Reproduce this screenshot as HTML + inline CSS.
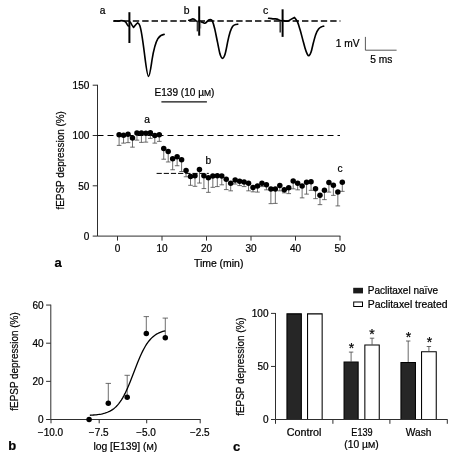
<!DOCTYPE html>
<html><head><meta charset="utf-8"><title>Figure</title>
<style>html,body{margin:0;padding:0;background:#fff}text{stroke:#000;stroke-width:0.22px}svg{display:block;will-change:transform;transform:translateZ(0)}</style></head>
<body>
<svg width="458" height="462" viewBox="0 0 458 462" font-family="Liberation Sans, sans-serif" fill="#000">
<rect width="458" height="462" fill="#fff"/>
<g fill="none" stroke="#000" stroke-linecap="round" stroke-linejoin="round">
<path d="M114 21.1 H340.4" stroke-width="1.5" stroke-dasharray="6.4 3" stroke-linecap="butt"/>
<path stroke-width="1.65" d="M113.8 21.0 C116 20.5 117.5 21.5 119 21.0 C121 20.3 122.5 20.8 124 21 C125.6 21.4 126.6 23 127.3 24.6 C127.8 25.6 128.3 26.2 128.8 26 M130.3 22 C131 23.5 132.2 25.8 133.6 27.4 C134.6 26.4 136 24 137.6 22.8 C138.6 23 139.2 24 139.8 25.5 C141.5 30 143 42 144.5 54 C145.8 64 147.2 76.3 148.5 76.3 C149.8 76.3 150.8 68 152 60 C153.6 50 155.5 42.6 158 38.4 C160 35.8 162 34.6 164.1 34.4"/>
<path stroke-width="2.0" d="M129.4 12.2 V43" stroke-linecap="butt"/>
<path stroke-width="1.65" d="M188.8 20.3 C190 20.4 191 19.6 192.3 19 C193.6 18.6 194.6 19.4 195.8 20.6 C196.8 21.5 197.6 21.6 198.4 21.4 M200.3 21.6 C201.5 22 202.8 22.2 204.2 23.2 C205.2 23.6 206 22.8 207 21.6 C208 20.4 209.2 19.5 210.3 19.6 C211.4 19.7 212 20.2 212.4 21.1 C213.6 23.6 214.3 27 214.9 29.6 C215.9 34 216.7 38.4 217.5 42.2 C218.4 46.6 219.2 51 220 54.1 C220.8 56.8 221.6 58.3 222.5 58.3 C223.4 58.3 224.3 56.8 225.1 54.1 C226 51 226.8 46.6 227.6 42.2 C228.4 38.4 229.2 35 230.1 32.1 C231 29.4 231.8 27.4 232.7 26.2 C233.6 25.2 234.6 24.7 235.7 24.5 L237.7 24.2"/>
<path stroke-width="2.0" d="M199.2 6.3 V35.7" stroke-linecap="butt"/>
<path stroke-width="1.7" stroke="#3c3c3c" d="M197.5 21.3 V31.4" stroke-linecap="butt"/><path stroke-width="0.8" stroke="#666" d="M200.7 21.5 V28.5" stroke-linecap="butt"/>
<path stroke-width="1.65" d="M268.6 18.3 C270.5 18.2 272 18.8 273.5 18.9 C275.5 19 277 18.6 278.5 19.6 C279.8 20.4 280.6 20.8 281.6 20.8 M283.6 20.6 C285 21 286.3 21.3 287.6 21.1 C289.8 20.6 292 18.4 294.4 17.4 C294.94 18.16 296.54 19.93 297.47 21.96 C298.40 23.99 299.16 26.75 300.01 29.56 C300.85 32.38 301.70 35.75 302.54 38.85 C303.39 41.95 304.29 45.61 305.07 48.14 C305.86 50.68 306.62 52.79 307.27 54.05 C307.92 55.32 308.34 56.02 308.96 55.74 C309.58 55.46 310.23 54.62 310.99 52.36 C311.75 50.11 312.68 45.33 313.52 42.23 C314.36 39.13 315.21 35.98 316.05 33.78 C316.90 31.59 317.74 30.18 318.59 29.05 C319.43 27.93 320.28 27.51 321.12 27.03 C321.97 26.55 323.23 26.32 323.66 26.18"/>
<path stroke-width="2.0" d="M282.6 9.3 V36.9" stroke-linecap="butt"/>
<path stroke-width="1.5" stroke="#303030" d="M280.2 21.0 V32.5" stroke-linecap="butt"/>
</g>
<text x="102.50" y="14.47" text-anchor="middle" font-size="10.2" font-weight="normal" >a</text>
<text x="186.60" y="13.54" text-anchor="middle" font-size="10.4" font-weight="normal" >b</text>
<text x="265.60" y="14.22" text-anchor="middle" font-size="10.6" font-weight="normal" >c</text>
<path d="M365.4 36.9 V50.2 H396.6" fill="none" stroke="#2e2e2e" stroke-width="0.8"/>
<text x="335.80" y="47.17" font-size="10.2" textLength="23.80" lengthAdjust="spacingAndGlyphs">1 mV</text>
<text x="370.20" y="63.27" font-size="10.2" textLength="22.10" lengthAdjust="spacingAndGlyphs">5 ms</text>
<g fill="none" stroke="#2e2e2e" stroke-width="1">
<path d="M97.5 84.80 V236.1 H340.4"/>
<path d="M92.7 236.10 H97.5"/>
<path d="M92.7 185.80 H97.5"/>
<path d="M92.7 135.50 H97.5"/>
<path d="M92.7 85.20 H97.5"/>
<path d="M117.50 236.1 V240.6"/>
<path d="M162.00 236.1 V240.6"/>
<path d="M206.50 236.1 V240.6"/>
<path d="M251.00 236.1 V240.6"/>
<path d="M295.50 236.1 V240.6"/>
<path d="M340.00 236.1 V240.6"/>
</g>
<text x="89.30" y="240.00" text-anchor="end" font-size="10.0" font-weight="normal" >0</text>
<text x="89.30" y="189.70" text-anchor="end" font-size="10.0" font-weight="normal" >50</text>
<text x="89.30" y="139.40" text-anchor="end" font-size="10.0" font-weight="normal" >100</text>
<text x="89.30" y="89.10" text-anchor="end" font-size="10.0" font-weight="normal" >150</text>
<text x="117.50" y="252.00" text-anchor="middle" font-size="10.0" font-weight="normal" >0</text>
<text x="162.00" y="252.00" text-anchor="middle" font-size="10.0" font-weight="normal" >10</text>
<text x="206.50" y="252.00" text-anchor="middle" font-size="10.0" font-weight="normal" >20</text>
<text x="251.00" y="252.00" text-anchor="middle" font-size="10.0" font-weight="normal" >30</text>
<text x="295.50" y="252.00" text-anchor="middle" font-size="10.0" font-weight="normal" >40</text>
<text x="340.00" y="252.00" text-anchor="middle" font-size="10.0" font-weight="normal" >50</text>
<text x="193.90" y="266.97" font-size="10.2" textLength="49.50" lengthAdjust="spacingAndGlyphs">Time (min)</text>
<text x="58.10" y="267.28" text-anchor="middle" font-size="13" font-weight="bold" >a</text>
<text transform="translate(64.2 160.4) rotate(-90)" text-anchor="middle" font-size="10.2" textLength="98.4" lengthAdjust="spacingAndGlyphs">fEPSP depression (%)</text>
<path d="M97.5 135.50 H340" stroke="#000" stroke-width="1" stroke-dasharray="6 4" fill="none"/>
<path d="M156.6 173.4 H208.8" stroke="#000" stroke-width="1" stroke-dasharray="5.2 1.96" fill="none"/>
<path d="M161.4 101.8 H206.9" stroke="#111" stroke-width="1.2" fill="none"/>
<text x="154.50" y="96.07" font-size="10.2" textLength="59.90" lengthAdjust="spacingAndGlyphs">E139 (10 µ<tspan font-size="8.6">M</tspan>)</text>
<text x="147.20" y="122.97" text-anchor="middle" font-size="10.2" font-weight="normal" >a</text>
<text x="208.30" y="163.87" text-anchor="middle" font-size="10.2" font-weight="normal" >b</text>
<text x="340.00" y="171.67" text-anchor="middle" font-size="10.2" font-weight="normal" >c</text>
<g stroke="#4a4a4a" stroke-width="0.8" fill="none">
<path d="M119.10 134.86 V145.40 M116.80 145.40 H121.40"/>
<path d="M123.56 135.36 V143.14 M121.26 143.14 H125.86"/>
<path d="M128.03 134.35 V142.64 M125.73 142.64 H130.33"/>
<path d="M132.49 138.12 V147.16 M130.19 147.16 H134.79"/>
<path d="M136.96 133.10 V140.13 M134.66 140.13 H139.26"/>
<path d="M141.42 133.10 V142.39 M139.12 142.39 H143.72"/>
<path d="M145.88 133.35 V142.14 M143.58 142.14 H148.18"/>
<path d="M150.35 132.85 V138.37 M148.05 138.37 H152.65"/>
<path d="M154.81 135.61 V143.14 M152.51 143.14 H157.11"/>
<path d="M159.28 134.86 V141.38 M156.98 141.38 H161.58"/>
<path d="M163.74 148.41 V159.21 M161.44 159.21 H166.04"/>
<path d="M168.20 151.43 V161.97 M165.90 161.97 H170.50"/>
<path d="M172.67 158.71 V169.75 M170.37 169.75 H174.97"/>
<path d="M177.13 156.70 V165.74 M174.83 165.74 H179.43"/>
<path d="M181.60 159.71 V171.51 M179.30 171.51 H183.90"/>
<path d="M186.06 170.51 V176.78 M183.76 176.78 H188.36"/>
<path d="M190.52 176.53 V185.32 M188.22 185.32 H192.82"/>
<path d="M194.99 175.78 V186.32 M192.69 186.32 H197.29"/>
<path d="M199.45 169.50 V183.06 M197.15 183.06 H201.75"/>
<path d="M203.92 175.78 V188.58 M201.62 188.58 H206.22"/>
<path d="M208.38 177.79 V192.35 M206.08 192.35 H210.68"/>
<path d="M212.84 176.03 V187.33 M210.54 187.33 H215.14"/>
<path d="M217.31 175.78 V186.58 M215.01 186.58 H219.61"/>
<path d="M221.77 176.03 V184.82 M219.47 184.82 H224.07"/>
<path d="M226.24 179.29 V189.59 M223.94 189.59 H228.54"/>
<path d="M230.70 183.31 V190.84 M228.40 190.84 H233.00"/>
<path d="M235.16 180.05 V184.06 M232.86 184.06 H237.46"/>
<path d="M239.63 181.30 V185.57 M237.33 185.57 H241.93"/>
<path d="M244.09 182.06 V186.58 M241.79 186.58 H246.39"/>
<path d="M248.56 183.31 V190.84 M246.26 190.84 H250.86"/>
<path d="M253.02 187.58 V191.85 M250.72 191.85 H255.32"/>
<path d="M257.48 186.07 V192.10 M255.18 192.10 H259.78"/>
<path d="M261.95 183.31 V186.58 M259.65 186.58 H264.25"/>
<path d="M266.41 184.82 V189.84 M264.11 189.84 H268.71"/>
<path d="M270.88 189.09 V203.65 M268.58 203.65 H273.18"/>
<path d="M275.34 189.09 V203.40 M273.04 203.40 H277.64"/>
<path d="M279.80 185.57 V190.84 M277.50 190.84 H282.10"/>
<path d="M284.27 189.84 V192.85 M281.97 192.85 H286.57"/>
<path d="M288.73 187.83 V193.61 M286.43 193.61 H291.03"/>
<path d="M293.20 181.05 V188.84 M290.90 188.84 H295.50"/>
<path d="M297.66 183.31 V189.84 M295.36 189.84 H299.96"/>
<path d="M302.12 186.07 V197.87 M299.82 197.87 H304.42"/>
<path d="M306.59 182.31 V194.11 M304.29 194.11 H308.89"/>
<path d="M311.05 181.81 V190.34 M308.75 190.34 H313.35"/>
<path d="M315.52 188.84 V198.63 M313.22 198.63 H317.82"/>
<path d="M319.98 195.36 V204.65 M317.68 204.65 H322.28"/>
<path d="M324.44 190.34 V199.63 M322.14 199.63 H326.74"/>
<path d="M328.91 182.56 V192.10 M326.61 192.10 H331.21"/>
<path d="M333.37 185.32 V195.36 M331.07 195.36 H335.67"/>
<path d="M337.84 192.10 V205.91 M335.54 205.91 H340.14"/>
<path d="M342.30 182.31 V191.35 M340.00 191.35 H344.60"/>
</g><g fill="#000">
<circle cx="119.10" cy="134.86" r="2.75"/>
<circle cx="123.56" cy="135.36" r="2.75"/>
<circle cx="128.03" cy="134.35" r="2.75"/>
<circle cx="132.49" cy="138.12" r="2.75"/>
<circle cx="136.96" cy="133.10" r="2.75"/>
<circle cx="141.42" cy="133.10" r="2.75"/>
<circle cx="145.88" cy="133.35" r="2.75"/>
<circle cx="150.35" cy="132.85" r="2.75"/>
<circle cx="154.81" cy="135.61" r="2.75"/>
<circle cx="159.28" cy="134.86" r="2.75"/>
<circle cx="163.74" cy="148.41" r="2.75"/>
<circle cx="168.20" cy="151.43" r="2.75"/>
<circle cx="172.67" cy="158.71" r="2.75"/>
<circle cx="177.13" cy="156.70" r="2.75"/>
<circle cx="181.60" cy="159.71" r="2.75"/>
<circle cx="186.06" cy="170.51" r="2.75"/>
<circle cx="190.52" cy="176.53" r="2.75"/>
<circle cx="194.99" cy="175.78" r="2.75"/>
<circle cx="199.45" cy="169.50" r="2.75"/>
<circle cx="203.92" cy="175.78" r="2.75"/>
<circle cx="208.38" cy="177.79" r="2.75"/>
<circle cx="212.84" cy="176.03" r="2.75"/>
<circle cx="217.31" cy="175.78" r="2.75"/>
<circle cx="221.77" cy="176.03" r="2.75"/>
<circle cx="226.24" cy="179.29" r="2.75"/>
<circle cx="230.70" cy="183.31" r="2.75"/>
<circle cx="235.16" cy="180.05" r="2.75"/>
<circle cx="239.63" cy="181.30" r="2.75"/>
<circle cx="244.09" cy="182.06" r="2.75"/>
<circle cx="248.56" cy="183.31" r="2.75"/>
<circle cx="253.02" cy="187.58" r="2.75"/>
<circle cx="257.48" cy="186.07" r="2.75"/>
<circle cx="261.95" cy="183.31" r="2.75"/>
<circle cx="266.41" cy="184.82" r="2.75"/>
<circle cx="270.88" cy="189.09" r="2.75"/>
<circle cx="275.34" cy="189.09" r="2.75"/>
<circle cx="279.80" cy="185.57" r="2.75"/>
<circle cx="284.27" cy="189.84" r="2.75"/>
<circle cx="288.73" cy="187.83" r="2.75"/>
<circle cx="293.20" cy="181.05" r="2.75"/>
<circle cx="297.66" cy="183.31" r="2.75"/>
<circle cx="302.12" cy="186.07" r="2.75"/>
<circle cx="306.59" cy="182.31" r="2.75"/>
<circle cx="311.05" cy="181.81" r="2.75"/>
<circle cx="315.52" cy="188.84" r="2.75"/>
<circle cx="319.98" cy="195.36" r="2.75"/>
<circle cx="324.44" cy="190.34" r="2.75"/>
<circle cx="328.91" cy="182.56" r="2.75"/>
<circle cx="333.37" cy="185.32" r="2.75"/>
<circle cx="337.84" cy="192.10" r="2.75"/>
<circle cx="342.30" cy="182.31" r="2.75"/>
</g>
<g fill="none" stroke="#2e2e2e" stroke-width="1">
<path d="M50.8 304.65 V419.5 H200.6"/>
<path d="M46.1 419.50 H50.8"/>
<path d="M46.1 381.35 H50.8"/>
<path d="M46.1 343.20 H50.8"/>
<path d="M46.1 305.05 H50.8"/>
<path d="M51.0 419.5 V423.3"/>
<path d="M99.2 419.5 V423.3"/>
<path d="M146.7 419.5 V423.3"/>
<path d="M200.2 419.5 V423.3"/>
</g>
<text x="43.50" y="423.30" text-anchor="end" font-size="10.0" font-weight="normal" >0</text>
<text x="43.50" y="385.15" text-anchor="end" font-size="10.0" font-weight="normal" >20</text>
<text x="43.50" y="347.00" text-anchor="end" font-size="10.0" font-weight="normal" >40</text>
<text x="43.50" y="308.85" text-anchor="end" font-size="10.0" font-weight="normal" >60</text>
<text x="50.50" y="436.40" text-anchor="middle" font-size="10.0" font-weight="normal" >−10.0</text>
<text x="98.70" y="436.40" text-anchor="middle" font-size="10.0" font-weight="normal" >−7.5</text>
<text x="146.00" y="436.40" text-anchor="middle" font-size="10.0" font-weight="normal" >−5.0</text>
<text x="199.80" y="436.40" text-anchor="middle" font-size="10.0" font-weight="normal" >−2.5</text>
<text x="93.40" y="450.07" font-size="10.2" textLength="63.80" lengthAdjust="spacingAndGlyphs">log [E139] (<tspan font-size="8.6">M</tspan>)</text>
<text x="12.20" y="450.28" text-anchor="middle" font-size="13" font-weight="bold" >b</text>
<text transform="translate(17.7 361.5) rotate(-90)" text-anchor="middle" font-size="10.2" textLength="98.4" lengthAdjust="spacingAndGlyphs">fEPSP depression (%)</text>
<g stroke="#4a4a4a" stroke-width="0.8" fill="none">
<path d="M108.30 403.20 V383.40 M105.60 383.40 H111.00"/>
<path d="M127.20 397.20 V375.30 M124.50 375.30 H129.90"/>
<path d="M146.30 333.60 V316.60 M143.60 316.60 H149.00"/>
<path d="M165.30 337.70 V318.10 M162.60 318.10 H168.00"/>
</g>
<path d="M89.86 415.26 L91.12 415.19 L92.38 415.11 L93.63 415.02 L94.89 414.91 L96.15 414.79 L97.41 414.64 L98.66 414.47 L99.92 414.27 L101.18 414.05 L102.44 413.78 L103.69 413.48 L104.95 413.13 L106.21 412.72 L107.46 412.26 L108.72 411.72 L109.98 411.10 L111.24 410.40 L112.49 409.59 L113.75 408.67 L115.01 407.63 L116.27 406.45 L117.52 405.11 L118.78 403.62 L120.04 401.95 L121.29 400.11 L122.55 398.07 L123.81 395.84 L125.07 393.42 L126.32 390.81 L127.58 388.03 L128.84 385.09 L130.10 382.01 L131.35 378.83 L132.61 375.58 L133.87 372.29 L135.12 369.00 L136.38 365.74 L137.64 362.56 L138.90 359.49 L140.15 356.55 L141.41 353.77 L142.67 351.16 L143.93 348.74 L145.18 346.51 L146.44 344.47 L147.70 342.62 L148.96 340.96 L150.21 339.46 L151.47 338.13 L152.73 336.95 L153.98 335.91 L155.24 334.99 L156.50 334.18 L157.76 333.47 L159.01 332.86 L160.27 332.32 L161.53 331.85 L162.79 331.45 L164.04 331.10 L165.30 330.79" fill="none" stroke="#000" stroke-width="1.3"/>
<g fill="#000">
<circle cx="89.10" cy="419.60" r="2.75"/>
<circle cx="108.30" cy="403.20" r="2.75"/>
<circle cx="127.20" cy="397.20" r="2.75"/>
<circle cx="146.30" cy="333.60" r="2.75"/>
<circle cx="165.30" cy="337.70" r="2.75"/>
</g>
<text x="268.50" y="423.30" text-anchor="end" font-size="10.0" font-weight="normal" >0</text>
<text x="268.50" y="370.25" text-anchor="end" font-size="10.0" font-weight="normal" >50</text>
<text x="268.50" y="317.20" text-anchor="end" font-size="10.0" font-weight="normal" >100</text>
<path d="M286.95 419.50 V313.85 H301.35 V419.50" fill="#262626" stroke="#000" stroke-width="1.05"/>
<path d="M307.55 419.50 V313.85 H322.15 V419.50" fill="#fff" stroke="#000" stroke-width="1.05"/>
<path d="M351.10 361.60 V352.10 M348.90 352.10 H353.30" stroke="#444" stroke-width="0.8" fill="none"/>
<path d="M344.05 419.50 V362.05 H358.15 V419.50" fill="#262626" stroke="#000" stroke-width="1.05"/>
<path d="M372.05 344.50 V338.20 M369.85 338.20 H374.25" stroke="#444" stroke-width="0.8" fill="none"/>
<path d="M364.85 419.50 V344.95 H379.25 V419.50" fill="#fff" stroke="#000" stroke-width="1.05"/>
<path d="M408.20 362.10 V341.00 M406.00 341.00 H410.40" stroke="#444" stroke-width="0.8" fill="none"/>
<path d="M400.95 419.50 V362.55 H415.45 V419.50" fill="#262626" stroke="#000" stroke-width="1.05"/>
<path d="M428.90 351.30 V346.50 M426.70 346.50 H431.10" stroke="#444" stroke-width="0.8" fill="none"/>
<path d="M421.55 419.50 V351.75 H436.25 V419.50" fill="#fff" stroke="#000" stroke-width="1.05"/>
<g fill="none" stroke="#2e2e2e" stroke-width="1">
<path d="M275.5 313.00 V419.5 H447.6"/>
<path d="M271.0 419.50 H275.5"/>
<path d="M271.0 366.45 H275.5"/>
<path d="M271.0 313.40 H275.5"/>
<path d="M275.5 419.5 V423.8"/>
<path d="M332.9 419.5 V423.8"/>
<path d="M389.9 419.5 V423.8"/>
<path d="M447.3 419.5 V423.8"/>
</g>
<text x="351.60" y="352.90" text-anchor="middle" font-size="14" font-weight="normal" stroke="#000" stroke-width="0.35">*</text>
<text x="371.90" y="339.30" text-anchor="middle" font-size="14" font-weight="normal" stroke="#000" stroke-width="0.35">*</text>
<text x="408.60" y="341.80" text-anchor="middle" font-size="14" font-weight="normal" stroke="#000" stroke-width="0.35">*</text>
<text x="429.40" y="346.90" text-anchor="middle" font-size="14" font-weight="normal" stroke="#000" stroke-width="0.35">*</text>
<text x="286.70" y="436.27" font-size="10.2" textLength="34.70" lengthAdjust="spacingAndGlyphs">Control</text>
<text x="351.30" y="436.27" font-size="10.2" textLength="21.30" lengthAdjust="spacingAndGlyphs">E139</text>
<text x="344.30" y="448.37" font-size="10.2" textLength="34.40" lengthAdjust="spacingAndGlyphs">(10 µ<tspan font-size="8.6">M</tspan>)</text>
<text x="405.80" y="436.27" font-size="10.2" textLength="25.60" lengthAdjust="spacingAndGlyphs">Wash</text>
<text x="236.50" y="451.28" text-anchor="middle" font-size="13" font-weight="bold" >c</text>
<text transform="translate(243.8 366.6) rotate(-90)" text-anchor="middle" font-size="10.2" textLength="98.4" lengthAdjust="spacingAndGlyphs">fEPSP depression (%)</text>
<rect x="353.2" y="287.8" width="9.8" height="5.6" fill="#1a1a1a" stroke="none"/>
<rect x="353.7" y="302.0" width="8.8" height="4.5" fill="#fff" stroke="#000" stroke-width="1"/>
<text x="367.70" y="294.47" font-size="10.2" textLength="70.30" lengthAdjust="spacingAndGlyphs">Paclitaxel naïve</text>
<text x="367.70" y="308.07" font-size="10.2" textLength="79.80" lengthAdjust="spacingAndGlyphs">Paclitaxel treated</text>
</svg>
</body></html>
